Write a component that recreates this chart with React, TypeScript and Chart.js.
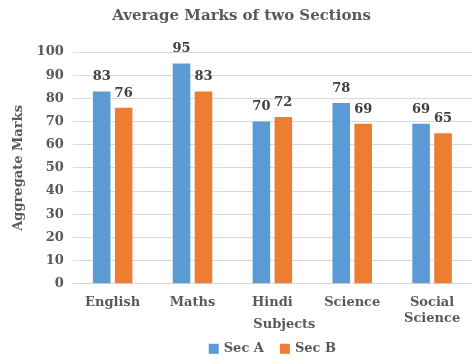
import React, { useEffect, useRef } from "react";
import { Chart, registerables } from "chart.js";

Chart.register(...registerables);

const categories: (string | string[])[] = ["English", "Maths", "Hindi", "Science", ["Social", "Science"]];
const seriesNames = ["Sec A", "Sec B"];
const secA = [83, 95, 70, 78, 69];
const secB = [76, 83, 72, 69, 65];
const yTicks = [0, 10, 20, 30, 40, 50, 60, 70, 80, 90, 100];
const xTitle = "Subjects";

const FONT = "'DejaVu Serif', 'Liberation Serif', serif";
const TEXT = "#595959";
const COLORS = ["#5B9BD5", "#ED7D31"];

const valueLabels = {
  id: "valueLabels",
  afterDatasetsDraw(chart: any) {
    const ctx = chart.ctx;
    ctx.save();
    ctx.font = `bold 13px ${FONT}`;
    ctx.fillStyle = "#404040";
    ctx.textAlign = "center";
    ctx.textBaseline = "bottom";
    chart.data.datasets.forEach((ds: any, i: number) => {
      const meta = chart.getDatasetMeta(i);
      meta.data.forEach((bar: any, j: number) => {
        ctx.fillText(String(ds.data[j]), bar.x, bar.y - 8);
      });
    });
    ctx.restore();
  },
};

const bottomLegend = {
  id: "bottomLegend",
  afterDraw(chart: any) {
    const ctx = chart.ctx;
    const area = chart.chartArea;
    const cx = (area.left + area.right) / 2;
    ctx.save();
    ctx.font = `bold 13px ${FONT}`;
    ctx.fillStyle = TEXT;
    ctx.textAlign = "center";
    ctx.textBaseline = "middle";
    ctx.fillText(xTitle, cx + 12, area.bottom + 41);
    const box = 10;
    const gapBoxText = 5;
    const gapItems = 16;
    const widths = chart.data.datasets.map((ds: any) => ctx.measureText(ds.label).width);
    const total = widths.reduce((a: number, w: number) => a + box + gapBoxText + w, 0) + gapItems * (widths.length - 1);
    let x = cx - total / 2;
    const y = area.bottom + 65;
    ctx.textAlign = "left";
    chart.data.datasets.forEach((ds: any, i: number) => {
      ctx.fillStyle = ds.backgroundColor;
      ctx.fillRect(x, y - box / 2, box, box);
      x += box + gapBoxText;
      ctx.fillStyle = TEXT;
      ctx.fillText(ds.label, x, y);
      x += widths[i] + gapItems;
    });
    ctx.restore();
  },
};

export default function App() {
  const ref = useRef<HTMLCanvasElement>(null);
  useEffect(() => {
    document.body.style.margin = "0";
    const chart = new Chart(ref.current!, {
      type: "bar",
      data: {
        labels: categories,
        datasets: [
          { label: seriesNames[0], data: secA, backgroundColor: COLORS[0] },
          { label: seriesNames[1], data: secB, backgroundColor: COLORS[1] },
        ],
      },
      plugins: [valueLabels, bottomLegend],
      options: {
        animation: false,
        responsive: false,
        maintainAspectRatio: false,
        layout: { padding: { left: 11, right: 0, top: 0, bottom: 32 } },
        datasets: { bar: { categoryPercentage: 0.55, barPercentage: 0.8 } },
        plugins: {
          title: {
            display: true,
            text: "Average Marks of two Sections",
            color: TEXT,
            font: { family: FONT, size: 15, weight: "bold" },
            padding: { top: 7, bottom: 27 },
          },
          legend: { display: false },
          tooltip: { enabled: false },
        },
        scales: {
          x: {
            grid: { display: false },
            border: { color: "#d9d9d9" },
            ticks: {
              color: TEXT,
              font: { family: FONT, size: 13, weight: "bold" },
              maxRotation: 0,
              padding: 3,
            },
          },
          y: {
            min: 0,
            max: 100,
            afterBuildTicks: (axis: any) => {
              axis.ticks = yTicks.map((v) => ({ value: v }));
            },
            grid: { color: "#d9d9d9", drawTicks: false },
            border: { display: false },
            ticks: {
              color: TEXT,
              font: { family: FONT, size: 13, weight: "bold" },
              padding: 9,
            },
            title: {
              display: true,
              text: "Aggregate Marks",
              color: TEXT,
              font: { family: FONT, size: 13, weight: "bold" },
              padding: { top: 0, bottom: 1 },
            },
          },
        },
      },
    } as any);
    return () => chart.destroy();
  }, []);
  return (
    <div style={{ width: 472, height: 361 }}>
      <canvas ref={ref} width={472} height={361} />
    </div>
  );
}
